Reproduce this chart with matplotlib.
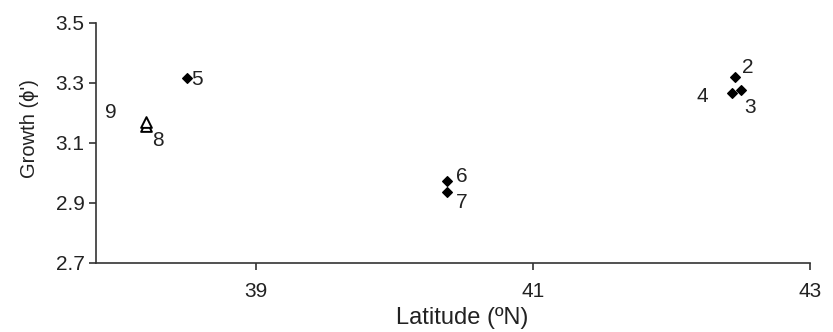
import matplotlib
matplotlib.use("Agg")
import matplotlib.pyplot as plt

plt.rcParams["font.family"] = ["Liberation Sans", "DejaVu Sans"]

# sites with filled diamonds
site_ids = ["2", "3", "4", "5", "6", "7"]
latitude = [42.46, 42.50, 42.44, 38.50, 40.38, 40.38]
growth = [3.320, 3.275, 3.265, 3.317, 2.973, 2.935]

# sites with open triangles
tri_ids = ["8", "9"]
tri_latitude = [38.20, 38.20]
tri_growth = [3.155, 3.170]

# label offsets in points (dx, dy)
label_offsets = {
    "2": (5, 3), "3": (3, -16), "4": (-26, -6), "5": (3, -5),
    "6": (6, -1), "7": (6, -11), "8": (5, -14), "9": (-29, 3),
}

fig = plt.figure(figsize=(8.33, 3.32), dpi=100)
ax = fig.add_axes([0.115, 0.208, 0.857, 0.723])

ax.scatter(latitude, growth, marker="D", s=24, color="black", zorder=3)
ax.scatter(tri_latitude, tri_growth, marker="^", s=60, facecolor="white",
           edgecolor="black", linewidths=1.4, zorder=3)

for sid, x, y in zip(site_ids + tri_ids, latitude + tri_latitude,
                     growth + tri_growth):
    dx, dy = label_offsets[sid]
    ax.annotate(sid, (x, y), xytext=(dx, dy), textcoords="offset points",
                fontsize=15, color="#222222")

ax.set_xlim(37.84, 43)
ax.set_ylim(2.7, 3.5)
ax.set_xticks([39, 41, 43])
ax.set_yticks([2.7, 2.9, 3.1, 3.3, 3.5])
ax.set_yticklabels(["2.7", "2.9", "3.1", "3.3", "3.5"])

ax.spines["top"].set_visible(False)
ax.spines["right"].set_visible(False)
for s in ["left", "bottom"]:
    ax.spines[s].set_linewidth(1.2)
    ax.spines[s].set_color("#333333")

ax.tick_params(axis="both", direction="out", length=5, width=1.2,
               color="#333333", labelsize=15, labelcolor="#222222")
ax.tick_params(axis="x", pad=9)
ax.tick_params(axis="y", pad=3)

ax.set_xlabel("Latitude (ºN)", fontsize=17, color="#222222")
ax.xaxis.set_label_coords(0.513, -0.185)
ax.set_ylabel("Growth (ϕ')", fontsize=14.5, color="#222222")
ax.yaxis.set_label_coords(-0.08, 0.56)

fig.savefig("out.png", dpi=100)
